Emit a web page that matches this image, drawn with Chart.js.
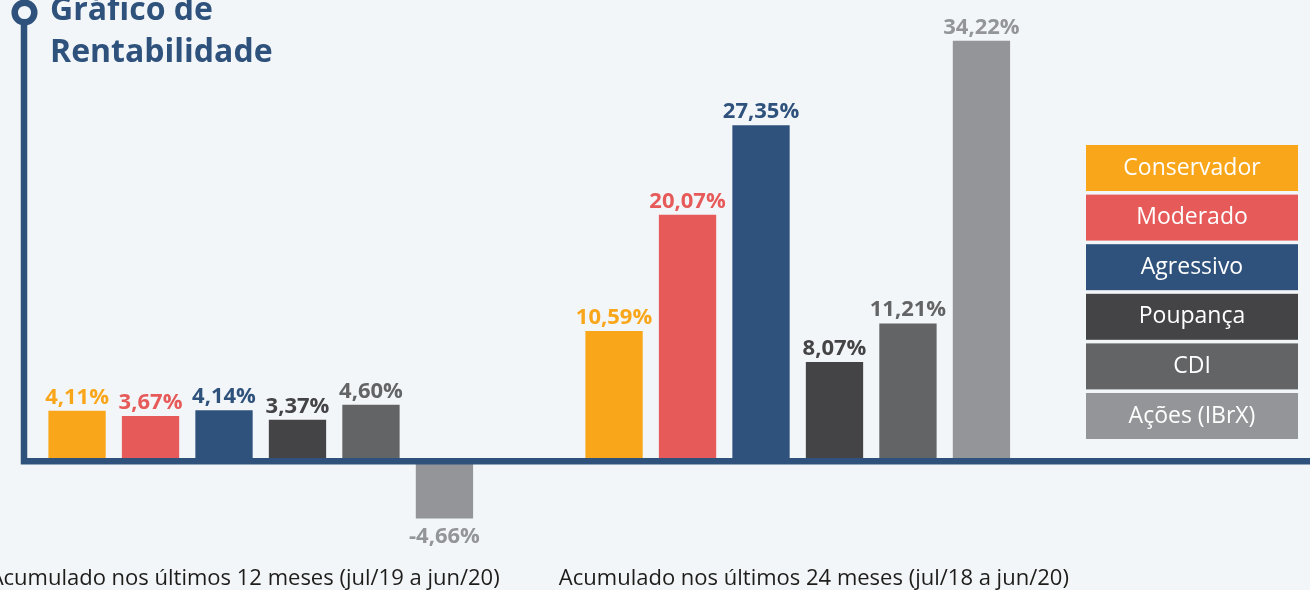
<!DOCTYPE html>
<html>
<head>
<meta charset="utf-8">
<script src="https://cdn.jsdelivr.net/npm/chart.js@4"></script>
<style>
  html, body { margin: 0; padding: 0; background: #f3f6f8; }
  #wrap { width: 1310px; height: 590px; }
</style>
</head>
<body>
<div id="wrap"><canvas id="rentChart" width="1310" height="590"></canvas></div>
<script>
const periods = [
  "Acumulado nos últimos 12 meses (jul/19 a jun/20)",
  "Acumulado nos últimos 24 meses (jul/18 a jun/20)",
];
const seriesNames = ["Conservador", "Moderado", "Agressivo", "Poupança", "CDI", "Ações (IBrX)"];
const conservador = [4.11, 10.59];
const moderado = [3.67, 20.07];
const agressivo = [4.14, 27.35];
const poupanca = [3.37, 8.07];
const cdi = [4.6, 11.21];
const acoes = [-4.66, 34.22];
const seriesValues = [conservador, moderado, agressivo, poupanca, cdi, acoes];
const seriesColors = ["#f9a61a", "#e65a5a", "#2f527d", "#444446", "#636466", "#939598"];

const navy = "#2f527d";

const datasets = seriesNames.map((name, i) => ({
  label: name,
  data: seriesValues[i],
  backgroundColor: seriesColors[i],
  borderWidth: 0,
  categoryPercentage: 0.821,
  barPercentage: 0.78,
  clip: false, // group centers sit on the chart area edges
}));

// draws the L-shaped axis, the title, value labels, the boxed legend and period labels
const decorPlugin = {
  id: "rentDecor",
  afterDatasetsDraw: (chart) => {
    const { ctx, scales } = chart;
    const zeroY = scales.y.getPixelForValue(0);
    ctx.save();

    // value labels
    ctx.textAlign = "center";
    ctx.font = "bold 22px 'Open Sans'";
    chart.data.datasets.forEach((ds, di) => {
      const meta = chart.getDatasetMeta(di);
      meta.data.forEach((bar, i) => {
        const v = ds.data[i];
        const txt = v.toFixed(2).replace(".", ",") + "%";
        ctx.fillStyle = ds.backgroundColor;
        if (v >= 0) {
          ctx.textBaseline = "alphabetic";
          ctx.fillText(txt, bar.x, bar.y - 7);
        } else {
          ctx.textBaseline = "top";
          ctx.fillText(txt, bar.x, bar.y + 7);
        }
      });
    });

    // axis lines
    ctx.strokeStyle = navy;
    ctx.lineWidth = 6.5;
    ctx.beginPath();
    ctx.moveTo(24, 22);
    ctx.lineTo(24, zeroY + 3.25);
    ctx.moveTo(21, zeroY);
    ctx.lineTo(1310, zeroY);
    ctx.stroke();
    ctx.beginPath();
    ctx.arc(24.5, 12.5, 9.8, 0, Math.PI * 2);
    ctx.fillStyle = "#f3f6f8";
    ctx.fill();
    ctx.stroke();

    // title
    ctx.fillStyle = navy;
    ctx.textAlign = "left";
    ctx.textBaseline = "alphabetic";
    ctx.font = "bold 32px 'Open Sans'";
    ctx.fillText("Gráfico de", 50, 20);
    ctx.fillText("Rentabilidade", 50, 62);

    // legend boxes
    ctx.font = "23px 'Open Sans'";
    ctx.textAlign = "center";
    ctx.textBaseline = "middle";
    chart.data.datasets.forEach((ds, di) => {
      const y = 145 + di * 49.6;
      ctx.fillStyle = ds.backgroundColor;
      ctx.fillRect(1086, y, 212, 46);
      ctx.fillStyle = "#ffffff";
      ctx.fillText(ds.label, 1192, y + 23);
    });

    // period labels, spread a bit wider than the group centers
    ctx.font = "22px 'Open Sans'";
    ctx.fillStyle = "#1d1d1b";
    ctx.textBaseline = "alphabetic";
    const mid = (scales.x.left + scales.x.right) / 2;
    chart.data.labels.forEach((lab, i) => {
      const cx = scales.x.getPixelForValue(i);
      ctx.fillText(lab, mid + (cx - mid) * 1.06, 585);
    });

    ctx.restore();
  },
};

new Chart(document.getElementById("rentChart"), {
  type: "bar",
  data: { labels: periods, datasets: datasets },
  options: {
    responsive: false,
    animation: false,
    devicePixelRatio: 1,
    layout: { padding: { left: 260.75, right: 512.25, top: 19, bottom: 6 } },
    scales: {
      x: { display: false, offset: false },
      y: { display: false, min: -10, max: 36 },
    },
    plugins: {
      legend: { display: false },
      tooltip: { enabled: false },
    },
  },
  plugins: [decorPlugin],
});
</script>
</body>
</html>
